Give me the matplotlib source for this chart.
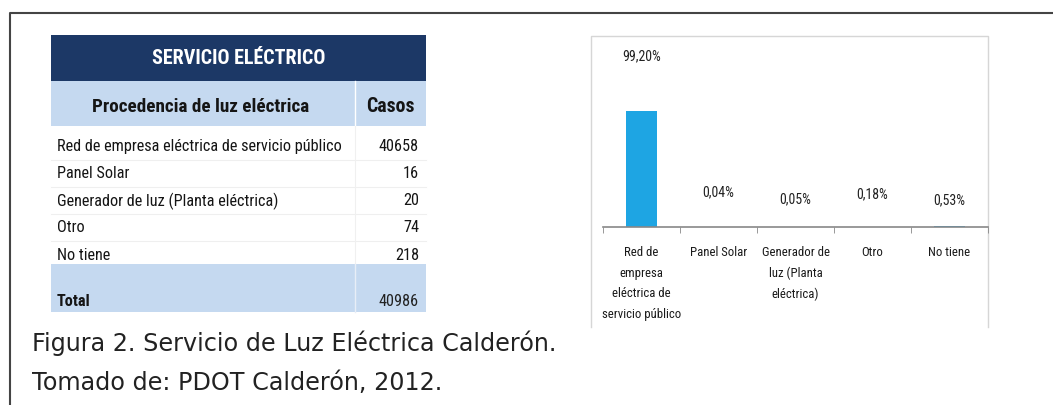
import matplotlib.pyplot as plt
from matplotlib import font_manager
from matplotlib.patches import Rectangle

# Data
fuentes = ["Red de empresa eléctrica de servicio público", "Panel Solar",
           "Generador de luz (Planta eléctrica)", "Otro", "No tiene"]
casos = [40658, 16, 20, 74, 218]
total = 40986
bar_labels = ["Red de\nempresa\neléctrica de\nservicio público", "Panel Solar",
              "Generador de\nluz (Planta\neléctrica)", "Otro", "No tiene"]
porcentajes = [99.20, 0.04, 0.05, 0.18, 0.53]
pct_text = ["99,20%", "0,04%", "0,05%", "0,18%", "0,53%"]
caption = ["Figura 2. Servicio de Luz Eléctrica Calderón.",
           "Tomado de: PDOT Calderón, 2012."]

# pick a condensed family that has both regular and bold, else Liberation Sans smaller
weights = {}
for f in font_manager.fontManager.ttflist:
    weights.setdefault(f.name, set()).add(f.weight)
NARROW, k = {"family": "Liberation Sans"}, 0.86
prefer = ["Liberation Sans Narrow", "Arial Narrow", "Roboto Condensed",
          "Noto Sans Condensed", "Open Sans Condensed", "DejaVu Sans Condensed"]
others = sorted(n for n in weights if ("Narrow" in n or "Condensed" in n)
                and not any(w in n for w in ["Extra", "Semi", "Light", "Thin", "Black", "Medium"]))
for name in prefer + others:
    w = weights.get(name, set())
    if 700 in w and 400 in w:
        NARROW, k = {"family": name}, 1.0
        break

NAVY = "#1c3866"
LIGHT = "#c5d9f0"
BLUE = "#1ea5e3"
INK = "#151515"

W, H = 1053, 406
fig = plt.figure(figsize=(W / 100, H / 100), dpi=100)
bg = fig.add_axes([0, 0, 1, 1])
bg.set_xlim(0, W)
bg.set_ylim(H, 0)
bg.axis("off")

# outer frame
bg.plot([10, 10, W], [H, 14, 14], color="#444444", lw=1.5)

# --- table ---
tx0, tx1, tdiv = 51, 426, 355
bg.add_patch(Rectangle((tx0, 36), tx1 - tx0, 46, color=NAVY, lw=0))
bg.text((tx0 + tx1) / 2, 59, "SERVICIO ELÉCTRICO", color="white", fontsize=14.4 * k,
        fontweight="bold", ha="center", va="center", **NARROW)
bg.add_patch(Rectangle((tx0, 82), tx1 - tx0, 45, color=LIGHT, lw=0))
bg.plot([tdiv, tdiv], [82, 127], color="white", lw=1)
bg.text((tx0 + tdiv) / 2 - 2, 107, "Procedencia de luz eléctrica", fontsize=13.8 * k,
        fontweight="bold", ha="center", va="center", color=INK, **NARROW)
bg.text((tdiv + tx1) / 2, 107, "Casos", fontsize=14.2 * k, fontweight="bold",
        ha="center", va="center", color=INK, **NARROW)

row_y0, row_h = 133, 27
for i, (f, c) in enumerate(zip(fuentes, casos)):
    yc = row_y0 + row_h * i + 14
    bg.text(57, yc, f, fontsize=11.7 * k, ha="left", va="center", color=INK, **NARROW)
    bg.text(419, yc, str(c), fontsize=11.7 * k, ha="right", va="center", color=INK, **NARROW)
    if i < len(fuentes) - 1:
        bg.plot([tx0, tx1], [yc + 13.5, yc + 13.5], color="#efefef", lw=0.8)
bg.plot([tdiv, tdiv], [127, 265], color="#f0f0f0", lw=0.8)

bg.add_patch(Rectangle((tx0, 265), tx1 - tx0, 48, color=LIGHT, lw=0))
bg.plot([tdiv, tdiv], [265, 313], color="#e8eef7", lw=1)
bg.text(57, 302, "Total", fontsize=11.7 * k, fontweight="bold",
        ha="left", va="center", color=INK, **NARROW)
bg.text(419, 302, str(total), fontsize=11.7 * k, ha="right",
        va="center", color="#222222", **NARROW)

# --- caption ---
for yc, line in zip([343, 383], caption):
    bg.text(32, yc, line, fontsize=17.2, family=["DejaVu Sans"], ha="left",
            va="center", color="#222222")

# --- bar chart box ---
bg.plot([591, 591, 988, 988], [328, 37, 37, 328], color="#d6d6d6", lw=1)

cx0, cx1, cy_top, cy_axis = 603, 988, 37, 228
ax = fig.add_axes([cx0 / W, 1 - cy_axis / H, (cx1 - cx0) / W, (cy_axis - cy_top) / H])
ax.patch.set_alpha(0)
x = list(range(len(porcentajes)))
ax.bar(x, porcentajes, width=0.4, color=BLUE)
ax.set_xlim(-0.5, len(x) - 0.5)
ax.set_ylim(0, 163)
for s in ["top", "left", "right"]:
    ax.spines[s].set_visible(False)
ax.spines["bottom"].set_color("#888888")
ax.spines["bottom"].set_linewidth(1.2)
ax.set_yticks([])
ax.set_xticks(x)
ax.set_xticklabels(bar_labels, fontsize=9.2 * k, color="#1a1a1a", linespacing=1.75, **NARROW)
ax.tick_params(axis="x", which="major", length=0, pad=13)
ax.set_xticks([i - 0.5 for i in range(len(x) + 1)], minor=True)
ax.tick_params(axis="x", which="minor", length=4, color="#888888", direction="out")

label_offsets = [55, 36, 29, 33, 27]
for xi, v, t, off in zip(x, porcentajes, pct_text, label_offsets):
    ax.annotate(t, (xi, v), xytext=(0, off), textcoords="offset pixels",
                ha="center", va="center", fontsize=10 * k, color="#222222",
                annotation_clip=False, **NARROW)

fig.savefig("out.png", dpi=100)
